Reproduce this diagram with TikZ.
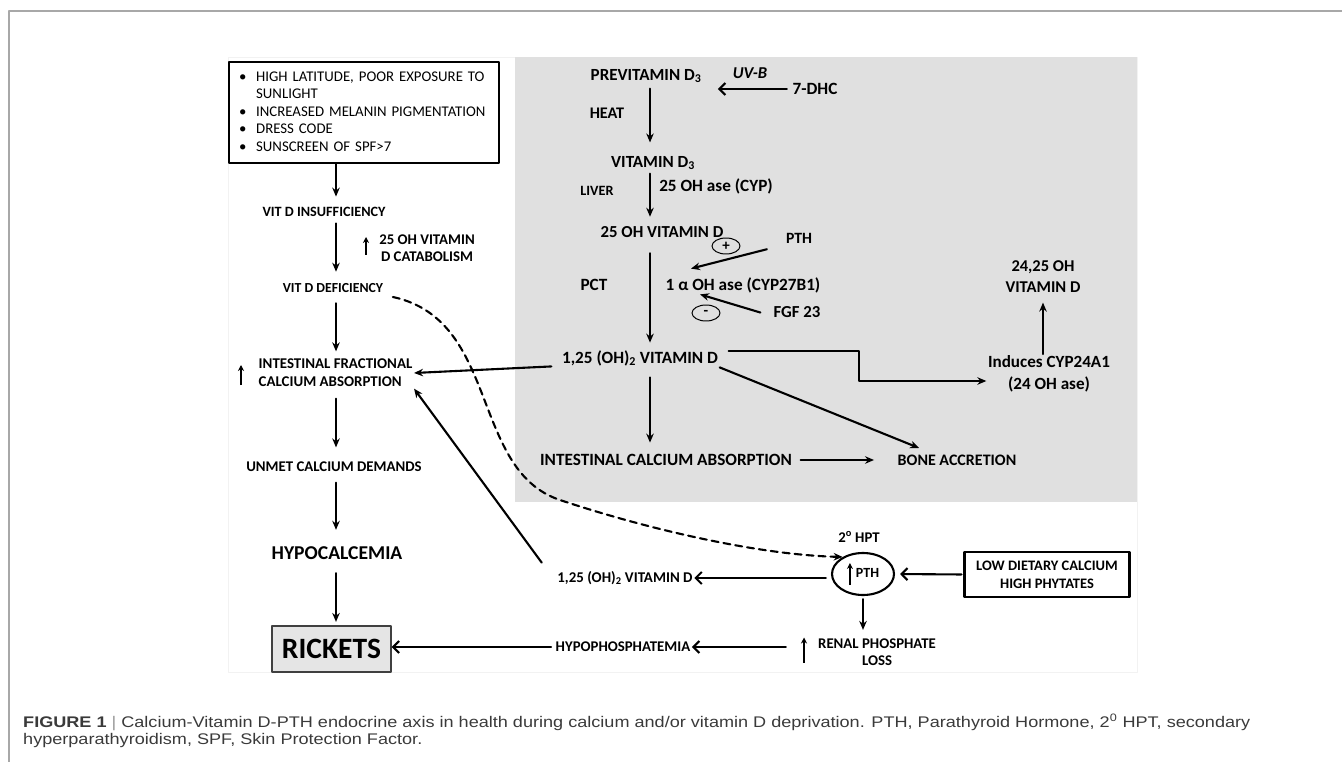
\documentclass[tikz,border=0pt]{standalone}
\usepackage{fontspec}
\usepackage{graphicx}
\setmainfont{Carlito}
\newfontfamily\capfont{Liberation Sans}
\usetikzlibrary{arrows.meta,shapes.geometric,calc}

\definecolor{panelgray}{HTML}{E0E0E0}
\definecolor{framegray}{HTML}{A8A8A8}
\definecolor{captext}{HTML}{3A3A3A}

\newsavebox\capbox
\newlength\capw
% small bold up-arrow used as a symbol inside labels
\newcommand{\upsym}[1]{\tikz[baseline={([yshift=-3.5pt]current bounding box.center)}]
  \draw[line width=2pt,-{Stealth[length=6pt,width=6pt]}] (0,0) -- (0,#1);}

\tikzset{
  lbl/.style 2 args={font=\bfseries\fontsize{#1}{#2}\selectfont,align=center,inner sep=1.5pt},
  arr/.style={line width=2.1pt,-{Stealth[length=9pt,width=7.5pt]}},
  barb/.style={line width=2.1pt,-{Straight Barb[length=6pt,width=12pt]}},
  dashlink/.style={arr,dash pattern=on 7pt off 5pt},
  sign/.style={ellipse,draw,line width=1pt,minimum width=28pt,minimum height=16pt,
    inner sep=0pt,font=\bfseries\fontsize{15}{15}\selectfont},
}

\begin{document}
\sbox\capbox{\capfont\fontsize{15.4}{17}\selectfont\color{captext}\textbf{FIGURE 1}
  {\color{black!40}|} Calcium-Vitamin D-PTH endocrine axis in health during calcium and/or
  vitamin D deprivation. PTH, Parathyroid Hormone, 2\textsuperscript{0} HPT, secondary}%
\setlength\capw{\wd\capbox}%
\pgfmathsetmacro\capscale{1227/\capw}%
\begin{tikzpicture}[x=1pt,y=-1pt,line cap=round,line join=round]
  \useasboundingbox (0,0) rectangle (1342,762);
  % page frame, image area and the shaded panel
  \draw[framegray,line width=1.3pt] (9,762) -- (9,11) -- (1342,11);
  \draw[black!5,line width=0.6pt] (228,57) rectangle (1137,672);
  \fill[panelgray] (515,57) rectangle (1137,502);
  \coordinate (colx) at (336,0);
  \coordinate (colmid) at (650,0);
  \coordinate (elbowx) at (859,351);

  % left column
  \node[draw,line width=2.4pt,anchor=north west,text width=250pt,inner xsep=10pt,inner ysep=6pt,
        minimum height=101pt,font=\fontsize{14.8}{17.5}\selectfont] (risk) at (228,61)
    {\begin{tabular}{@{}p{13pt}@{\hspace{4pt}}l@{}}
      \textbullet & HIGH LATITUDE, POOR EXPOSURE TO\\
                  & SUNLIGHT\\
      \textbullet & INCREASED MELANIN PIGMENTATION\\
      \textbullet & DRESS CODE\\
      \textbullet & SUNSCREEN OF SPF>7
     \end{tabular}};
  \node[lbl={14.2}{17}] (insuff) at (324,212) {VIT D INSUFFICIENCY};
  \node[lbl={14.8}{17}] (catab) at (427,248) {25 OH VITAMIN\\D CATABOLISM};
  \node[inner sep=0pt] (catabup) at (366,246) {\upsym{18pt}};
  \node[lbl={13.8}{17}] (defic) at (333,288) {VIT D DEFICIENCY};
  \node[lbl={14.9}{18},align=left,anchor=west] (intfrac) at (257,373) {INTESTINAL FRACTIONAL\\CALCIUM ABSORPTION};
  \node[inner sep=0pt] (fracup) at (241,375) {\upsym{20pt}};
  \node[lbl={14.8}{17}] (unmet) at (334,467) {UNMET CALCIUM DEMANDS};
  \node[lbl={19.6}{22}] (hypocal) at (337,553) {HYPOCALCEMIA};
  \node[lbl={29.5}{30},draw=black!75,fill=black!10,line width=1.2pt,minimum width=119pt,
        minimum height=46pt] (rickets) at (331.5,649) {RICKETS};

  \draw[arr,shorten >=9pt] (risk.south -| colx) -- (insuff.north -| colx);
  \draw[arr,shorten <=5pt,shorten >=10pt] (insuff.south -| colx) -- (defic.north -| colx);
  \draw[arr,shorten <=9pt,shorten >=6pt] (defic.south -| colx) -- (intfrac.north -| colx);
  \draw[arr,shorten <=10pt,shorten >=13pt] (intfrac.south -| colx) -- (unmet.north -| colx);
  \draw[arr,shorten <=9pt,shorten >=15pt] (unmet.south -| colx) -- (hypocal.north -| colx);
  \draw[arr,shorten <=12pt,shorten >=3.5pt] (hypocal.south -| colx) -- (rickets.north -| colx);

  % vitamin D synthesis and activation
  \node[lbl={17}{20}] (previt) at (646,76) {PREVITAMIN D\textsubscript{3}};
  \node[lbl={16.6}{20}] (uvb) at (750,73) {\itshape UV-B};
  \node[lbl={17.2}{20}] (dhc) at (815,89) {7-DHC};
  \node[lbl={16.2}{20}] (heat) at (607,113) {HEAT};
  \node[lbl={17}{20}] (vitd3) at (653,163) {VITAMIN D\textsubscript{3}};
  \node[lbl={14.2}{17}] (liver) at (597,191) {LIVER};
  \node[lbl={17.2}{20}] (cyp) at (716,186) {25 OH ase (CYP)};
  \node[lbl={16.8}{20}] (oh25) at (662,232) {25 OH VITAMIN D};
  \node[sign] (plus) at (726,246) {+};
  \node[lbl={15.7}{20}] (pthtop) at (799,238) {PTH};
  \node[lbl={17.2}{20}] (pct) at (594,285) {PCT};
  \node[lbl={17.2}{20}] (ohase) at (743,285) {1 α OH ase (CYP27B1)};
  \node[sign] (minus) at (706,313) {-};
  \node[lbl={16.8}{20}] (fgf) at (797,312) {FGF 23};
  \node[lbl={16.5}{21}] (d2425) at (1043,277) {24,25 OH\\VITAMIN D};
  \node[lbl={17.2}{20}] (cal125) at (640,358) {1,25 (OH)\textsubscript{2} VITAMIN D};
  \node[lbl={17.1}{22}] (induce) at (1049,374) {Induces CYP24A1\\(24 OH ase)};
  \node[lbl={17.2}{20}] (intcal) at (666,460) {INTESTINAL CALCIUM ABSORPTION};
  \node[lbl={16}{20}] (bone) at (957,460) {BONE ACCRETION};

  \draw[barb,shorten <=4pt,shorten >=15pt] (dhc.west) -- (dhc.west -| previt.east);
  \draw[arr,shorten <=4pt,shorten >=12pt] (previt.south -| colmid) -- (vitd3.north -| colmid);
  \draw[arr,shorten <=2pt,shorten >=8pt] (vitd3.south -| colmid) -- (oh25.north -| colmid);
  \draw[arr,shorten <=14pt,shorten >=6pt] (oh25.south -| colmid) -- (cal125.north -| colmid);
  \draw[arr,shorten <=18pt] (pthtop.south west) -- ([xshift=27pt,yshift=7pt]ohase.north west);
  \draw[arr,shorten <=12pt] ([yshift=-4pt]fgf.west) -- ([xshift=36pt]ohase.south west);
  \draw[arr,shorten <=9pt] ([yshift=7pt]cal125.east) -- (elbowx) |- ([yshift=-7pt]induce.west);
  \draw[arr,shorten >=8pt] (induce.north -| d2425.south) -- (d2425.south);
  \draw[arr] (cal125.south east) -- ([xshift=23pt,yshift=5pt]bone.north west);
  \draw[arr,shorten <=10pt,shorten >=10pt] (cal125.south -| colmid) -- (intcal.north -| colmid);
  \draw[arr,shorten <=7pt,shorten >=22pt] (intcal.east) -- (bone.west);
  \draw[arr,shorten <=9pt] ([yshift=-8pt]cal125.west) -- (intfrac.east);

  % secondary hyperparathyroidism
  \node[lbl={14.8}{17}] (hpt) at (859,537) {2\textsuperscript{o} HPT};
  \node[lbl={14}{17},ellipse,draw,line width=2.1pt,minimum width=62pt,minimum height=42pt,
        inner sep=0pt] (pthc) at (863,574) {\upsym{22pt}\hspace{3pt}PTH};
  \node[lbl={14.5}{18},draw,line width=2.1pt,minimum width=165pt,minimum height=45pt] (diet)
    at (1047,574.5) {LOW DIETARY CALCIUM\\HIGH PHYTATES};
  \node[lbl={14.9}{17}] (cal125b) at (625,578) {1,25 (OH)\textsubscript{2} VITAMIN D};
  \node[lbl={14.8}{17}] (renal) at (877,652) {RENAL PHOSPHATE\\LOSS};
  \node[inner sep=0pt] (renalup) at (804,650) {\upsym{25pt}};
  \node[lbl={14.8}{17}] (hypop) at (623,647) {HYPOPHOSPHATEMIA};

  \draw[dashlink] ([xshift=8pt,yshift=-9pt]defic.east) .. controls (500,320) and (470,470) .. (560,500)
    .. controls (650,530) and (760,555) .. (pthc.140);
  \draw[barb,shorten <=2pt,shorten >=5pt] (diet.west) -- (pthc.east);
  \draw[barb,shorten <=5pt] (pthc.west |- cal125b.east) -- (cal125b.east);
  \draw[arr,shorten <=3pt,shorten >=7pt] (pthc.south) -- (pthc.south |- renal.north);
  \draw[barb,shorten <=15pt] (renalup.west |- hypop.east) -- (hypop.east);
  \draw[barb,shorten <=3pt] (hypop.west) -- (hypop.west -| rickets.east);
  \draw[arr] ([shift={(-14pt,7pt)}]cal125b.north west) -- (intfrac.south east);

  % caption
  \node[anchor=base west,inner sep=0pt] (capa) at (23,727) {\scalebox{\capscale}[1]{\usebox\capbox}};
  \node[anchor=base west,inner sep=0pt,text=captext] (capb) at (23,744)
    {\scalebox{\capscale}[1]{\capfont\fontsize{15.4}{17}\selectfont hyperparathyroidism, SPF, Skin Protection Factor.}};
\end{tikzpicture}
\end{document}
